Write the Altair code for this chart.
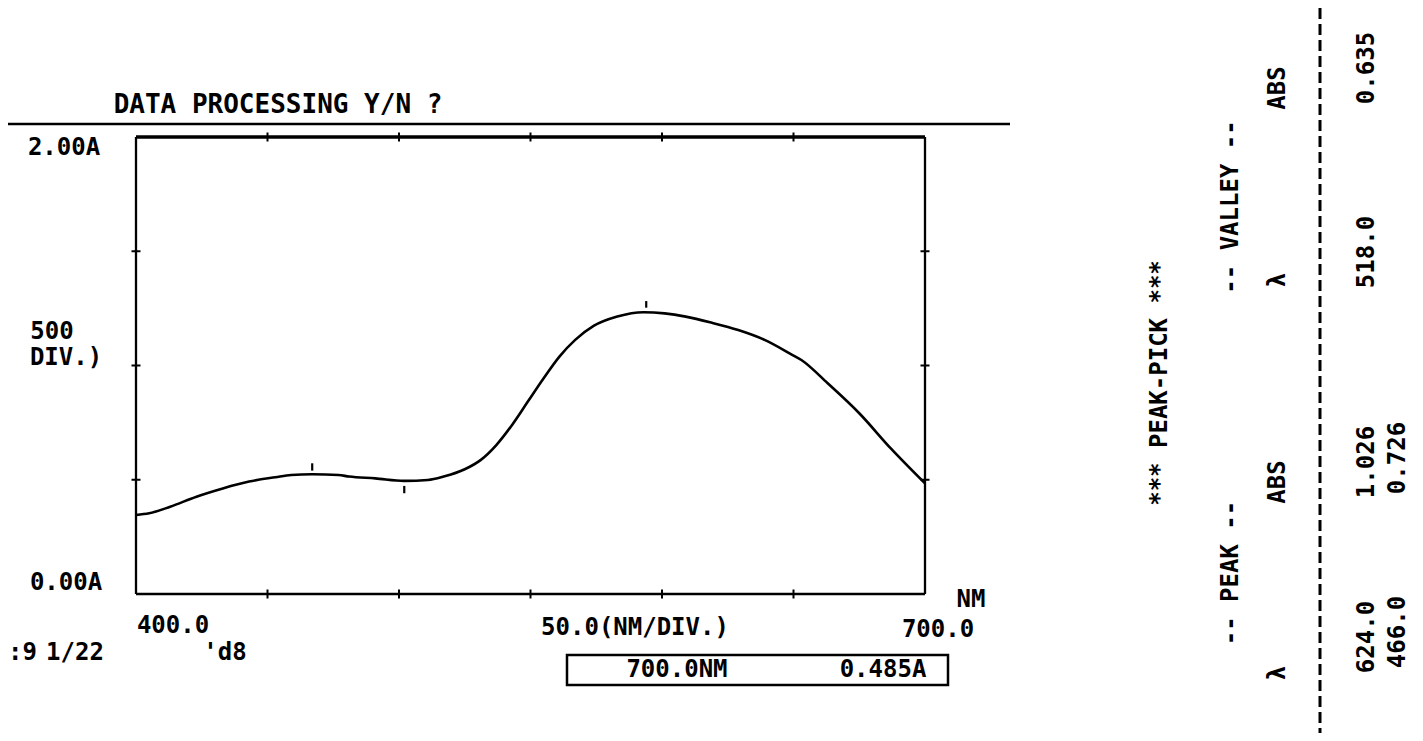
import altair as alt
import pandas as pd

# ---------------- data ----------------
wavelength = [400, 405, 413, 423, 433, 443, 453, 459, 467, 477, 481, 491, 502, 511,
              517, 525, 531, 537, 543, 549, 555, 561, 567, 574, 583, 593, 601, 609,
              619, 629, 639, 649, 653, 663, 675, 687, 700]
absorbance = [0.346, 0.353, 0.382, 0.426, 0.462, 0.492, 0.511, 0.521, 0.524, 0.521,
              0.514, 0.506, 0.495, 0.499, 0.514, 0.546, 0.586, 0.652, 0.740, 0.842,
              0.944, 1.039, 1.112, 1.173, 1.214, 1.233, 1.228, 1.214, 1.187, 1.155,
              1.112, 1.050, 1.024, 0.922, 0.791, 0.637, 0.484]

# peak / valley pick marks drawn on the curve
marker_nm = [467, 502, 594]
marker_lo = [0.540, 0.441, 1.253]
marker_hi = [0.572, 0.473, 1.282]

x_domain = [400, 700]
y_domain = [0, 2]
x_ticks = [450, 500, 550, 600, 650]
y_ticks = [0.5, 1.0, 1.5]

# texts of the printout
title_text = "DATA PROCESSING Y/N ?"
left_labels = ["2.00A", "500", "DIV.)", "0.00A"]
bottom_labels = ["400.0", "50.0(NM/DIV.)", "700.0", "NM", ":9", "1/22", "'d8"]
cursor_labels = ["700.0NM", "0.485A"]
table_labels = ["*** PEAK-PICK ***", "-- PEAK --", "-- VALLEY --",
                "λ", "ABS", "λ", "ABS"]
peak_nm = ["624.0", "466.0"]
peak_abs = ["1.026", "0.726"]
valley_nm = ["518.0"]
valley_abs = ["0.635"]

# ---------------- layout (pixels inside the chart) ----------------
W, H = 1407, 725
BOX_L, BOX_R, BOX_T, BOX_B = 128, 917, 129, 586
FONT = "DejaVu Sans Mono"
FS = 24

xs = alt.Scale(domain=x_domain, range=[BOX_L, BOX_R], nice=False, zero=False)
ys = alt.Scale(domain=y_domain, range=[BOX_B, BOX_T], nice=False, zero=False)


def X(f):
    return alt.X(f, scale=xs, axis=None)


def Y(f):
    return alt.Y(f, scale=ys, axis=None)


curve = alt.Chart(pd.DataFrame({"nm": wavelength, "a": absorbance})).mark_line(
    color="black", strokeWidth=2.6, interpolate="monotone"
).encode(x=X("nm:Q"), y=Y("a:Q"))

frame_df = pd.DataFrame({
    "x": [x_domain[0], x_domain[1], x_domain[0]],
    "x2": [x_domain[0], x_domain[1], x_domain[1]],
    "y": [y_domain[0], y_domain[0], y_domain[0]],
    "y2": [y_domain[1], y_domain[1], y_domain[0]],
})
frame = alt.Chart(frame_df).mark_rule(color="black", strokeWidth=2.3).encode(
    x=X("x:Q"), x2="x2:Q", y=Y("y:Q"), y2="y2:Q")

top_df = pd.DataFrame({"x": [x_domain[0]], "x2": [x_domain[1]], "y": [y_domain[1]]})
top = alt.Chart(top_df).mark_rule(color="black", strokeWidth=3.4).encode(
    x=X("x:Q"), x2="x2:Q", y=Y("y:Q"))

xt_df = pd.DataFrame({"nm": x_ticks * 2,
                      "a": [y_domain[0]] * len(x_ticks) + [y_domain[1]] * len(x_ticks)})
xt = alt.Chart(xt_df).mark_tick(orient="vertical", size=9, thickness=2,
                                color="black", opacity=1).encode(x=X("nm:Q"), y=Y("a:Q"))

yt_df = pd.DataFrame({"nm": [x_domain[0]] * len(y_ticks) + [x_domain[1]] * len(y_ticks),
                      "a": y_ticks * 2})
yt = alt.Chart(yt_df).mark_tick(orient="horizontal", size=9, thickness=2,
                                color="black", opacity=1).encode(x=X("nm:Q"), y=Y("a:Q"))

marks = alt.Chart(pd.DataFrame({"nm": marker_nm, "lo": marker_lo, "hi": marker_hi})).mark_rule(
    color="black", strokeWidth=2.2).encode(x=X("nm:Q"), y=Y("lo:Q"), y2="hi:Q")

one = pd.DataFrame({"k": [0]})
sep = alt.Chart(one).mark_rule(color="black", strokeWidth=2.4).encode(
    x=alt.value(0), x2=alt.value(1002), y=alt.value(116))
box = alt.Chart(one).mark_rect(fillOpacity=0, stroke="black", strokeWidth=2.5).encode(
    x=alt.value(559), x2=alt.value(940), y=alt.value(647), y2=alt.value(677))
dash = alt.Chart(one).mark_rule(color="black", strokeWidth=3, strokeDash=[11, 5]).encode(
    x=alt.value(1312), y=alt.value(0), y2=alt.value(H))

# title (slightly larger)
ttl = alt.Chart(pd.DataFrame({"t": [title_text]})).mark_text(
    font=FONT, fontSize=26, fontWeight="bold", color="black", align="center",
    baseline="alphabetic").encode(x=alt.value(270), y=alt.value(105), text="t:N")

# horizontal texts
h_text = left_labels + bottom_labels + cursor_labels
h_x = [56, 44, 58, 58, 165, 627, 930, 963, 0, 67, 217, 669, 875]
h_y = [147, 331, 357, 582, 625, 627, 629, 599, 652, 652, 652, 669, 669]
h_al = ["center", "center", "center", "center", "center", "center", "center", "center",
        "left", "center", "center", "center", "center"]
hdf = pd.DataFrame({"t": h_text, "px": h_x, "py": h_y, "al": h_al})
htxt_c = alt.Chart(hdf[hdf.al == "center"]).mark_text(
    font=FONT, fontSize=FS, fontWeight="bold", color="black", align="center",
    baseline="alphabetic"
).encode(x=alt.X("px:Q", scale=None, axis=None), y=alt.Y("py:Q", scale=None, axis=None),
         text="t:N")
htxt_l = alt.Chart(hdf[hdf.al == "left"]).mark_text(
    font=FONT, fontSize=FS, fontWeight="bold", color="black", align="left",
    baseline="alphabetic"
).encode(x=alt.X("px:Q", scale=None, axis=None), y=alt.Y("py:Q", scale=None, axis=None),
         text="t:N")

# rotated table texts
r_text = table_labels + peak_nm + peak_abs + valley_nm + valley_abs
r_x = [1152, 1223, 1223, 1270, 1270, 1270, 1270,
       1359, 1390, 1359, 1390, 1359, 1359]
r_y = [375, 565, 199, 665, 474, 272, 80,
       629, 624, 454, 450, 244, 60]
rtxt = alt.Chart(pd.DataFrame({"t": r_text, "px": r_x, "py": r_y})).mark_text(
    font=FONT, fontSize=FS, fontWeight="bold", color="black", align="center",
    baseline="middle", angle=270
).encode(x=alt.X("px:Q", scale=None, axis=None), y=alt.Y("py:Q", scale=None, axis=None),
         text="t:N")

chart = alt.layer(
    sep, top, frame, xt, yt, curve, marks, box, dash, ttl, htxt_c, htxt_l, rtxt
).properties(
    width=W, height=H, padding=0, autosize=alt.AutoSizeParams(type="none"),
    background="white"
).configure_view(strokeWidth=0)

chart.save("out.html", embed_options={"renderer": "svg", "actions": False})
